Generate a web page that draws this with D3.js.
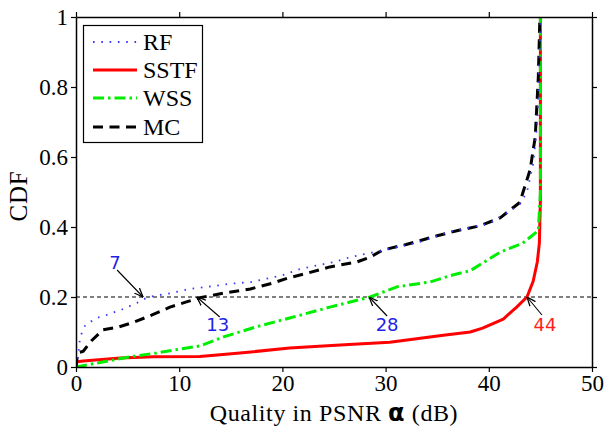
<!DOCTYPE html>
<html><head><meta charset="utf-8">
<script src="https://cdn.jsdelivr.net/npm/d3@7"></script>
<style>body{margin:0;background:#fff}svg{display:block}</style>
</head><body>
<script>
// ---- data ----
const seriesNames = ["RF", "SSTF", "WSS", "MC"];
const rfX = [0,0.2,0.4,0.9,2,3,4.5,5.9,7,9,11,13,15,17,20,21.7,25,26.6,30,33.3,36,38,40,42,43,43.7,44.3,44.7,44.9,45];
const rfY = [0,0.03,0.086,0.12,0.14,0.149,0.165,0.183,0.2,0.21,0.223,0.23,0.238,0.243,0.262,0.28,0.3,0.314,0.335,0.357,0.385,0.397,0.41,0.445,0.465,0.5,0.58,0.7,0.88,1.0];
const sstfX = [0,0.1,0.7,4.3,7.5,12,15.9,20.7,25.6,30.4,35.6,38.2,39.4,41.4,42.7,43.7,44.3,44.7,44.9,45,45];
const sstfY = [0,0.015,0.017,0.026,0.029,0.03,0.04,0.054,0.063,0.071,0.091,0.1,0.111,0.137,0.171,0.2,0.245,0.3,0.354,0.48,1.0];
const wssX = [0,0.9,2.6,5.2,7.8,10,12,14.3,17.5,20.7,24.6,28.5,31.1,34.3,36.5,38.2,41.1,43.3,44.8,45,45];
const wssY = [0,0.005,0.014,0.029,0.04,0.051,0.06,0.086,0.115,0.14,0.171,0.2,0.229,0.243,0.263,0.275,0.328,0.354,0.39,0.5,1.0];
const mcX = [0,0.15,0.7,1.5,2.6,4.1,5.5,6.9,9.1,10.7,12,14.3,16.9,19.1,20.5,22.4,24.6,27.2,28.5,29.7,32,35,37,39.1,41.1,43,44,44.5,44.8,44.95];
const mcY = [0,0.04,0.045,0.075,0.106,0.114,0.127,0.143,0.171,0.186,0.198,0.211,0.223,0.24,0.254,0.268,0.286,0.3,0.314,0.334,0.35,0.375,0.39,0.403,0.426,0.47,0.563,0.657,0.83,1.0];
const xTicks = [0,10,20,30,40,50];
const yTicks = [0,0.2,0.4,0.6,0.8,1];
const refLevel = 0.2;
const annoX = [6.5, 11.7, 28.4, 43.7];
const annoLabels = ["7", "13", "28", "44"];

// ---- layout ----
const W = 606, H = 430;
const m = {left: 76, right: 14, top: 17, bottom: 63};
const iw = W - m.left - m.right, ih = H - m.top - m.bottom;
const x = d3.scaleLinear().domain([0,50]).range([0, iw]);
const y = d3.scaleLinear().domain([0,1]).range([ih, 0]);

const svg = d3.select("body").append("svg").attr("width", W).attr("height", H);
const g = svg.append("g").attr("transform", `translate(${m.left},${m.top})`);

const serif = "'Liberation Serif','Times New Roman',serif";
const sans = "'DejaVu Sans',sans-serif";

// reference line
g.append("line").attr("x1", x(0)).attr("x2", x(50)).attr("y1", y(refLevel)).attr("y2", y(refLevel))
  .attr("stroke", "#000").attr("stroke-width", 1).attr("stroke-dasharray", "4,3");

const styles = {
  RF:   {color: "#3a3aff", width: 1.8, dash: "1.6,6.7"},
  SSTF: {color: "#ff0000", width: 3, dash: null},
  WSS:  {color: "#00ee00", width: 3, dash: "11,4,2.5,4"},
  MC:   {color: "#000000", width: 3, dash: "10,6.5"}
};
const data = {
  RF: rfX.map((v,i)=>[v, rfY[i]]),
  SSTF: sstfX.map((v,i)=>[v, sstfY[i]]),
  WSS: wssX.map((v,i)=>[v, wssY[i]]),
  MC: mcX.map((v,i)=>[v, mcY[i]])
};
const line = d3.line().x(d=>x(d[0])).y(d=>y(d[1]));
const clip = svg.append("defs").append("clipPath").attr("id","c").append("rect")
  .attr("x",0).attr("y",-2).attr("width",iw).attr("height",ih+2);
const curves = g.append("g").attr("clip-path","url(#c)");
["SSTF","WSS","MC","RF"].forEach(k=>{
  const s = styles[k];
  curves.append("path").datum(data[k]).attr("d", line).attr("fill","none")
    .attr("stroke", s.color).attr("stroke-width", s.width)
    .attr("stroke-dasharray", s.dash).attr("stroke-linejoin","round");
});

// axes
function styleAxis(sel){
  sel.selectAll("path.domain").attr("stroke","#000").attr("stroke-width",1.5);
  sel.selectAll(".tick line").attr("stroke","#000").attr("stroke-width",1.2);
  sel.selectAll(".tick text").attr("font-family", serif).attr("font-size", 23).attr("fill","#000");
}
const fmtY = d => d===0 ? "0" : d===1 ? "1" : d3.format(".1f")(d);
g.append("g").attr("transform",`translate(0,${ih})`)
  .call(d3.axisBottom(x).tickValues(xTicks).tickSize(5).tickSizeOuter(0).tickPadding(3))
  .call(styleAxis);
g.append("g").call(d3.axisLeft(y).tickValues(yTicks).tickFormat(fmtY).tickSize(5).tickSizeOuter(0).tickPadding(3))
  .call(styleAxis);
g.append("g").call(d3.axisTop(x).tickValues(xTicks).tickFormat("").tickSize(5).tickSizeOuter(0)).call(styleAxis);
g.append("g").attr("transform",`translate(${iw},0)`)
  .call(d3.axisRight(y).tickValues(yTicks).tickFormat("").tickSize(5).tickSizeOuter(0)).call(styleAxis);

// axis labels
const xl = svg.append("text").attr("x", m.left + iw/2).attr("y", 421).attr("text-anchor","middle")
  .attr("font-family", serif).attr("font-size", 24).attr("letter-spacing", 0.6).attr("fill","#000");
xl.append("tspan").text("Quality in PSNR ");
xl.append("tspan").attr("font-family", sans).attr("font-weight","bold").text("α");
xl.append("tspan").text(" (dB)");
svg.append("text").attr("transform", `translate(27,${m.top+ih/2+4}) rotate(-90)`).attr("text-anchor","middle")
  .attr("font-family", serif).attr("font-size", 25).attr("letter-spacing", 0.8).attr("fill","#000").text("CDF");

// annotations
const defs = svg.select("defs");
defs.append("marker").attr("id","ah").attr("viewBox","0 0 10 10").attr("refX",10).attr("refY",5)
  .attr("markerWidth",9).attr("markerHeight",9).attr("markerUnits","userSpaceOnUse").attr("orient","auto")
  .append("path").attr("d","M0,1 L10,5 L0,9").attr("fill","none").attr("stroke","#000").attr("stroke-width",1.4);
const annoColors = ["#1f1fe6","#1f1fe6","#1f1fe6","#ff1f1f"];
const annoOff = [[-26,-27,-28,-28],[23,20,21,34],[18,19,18,34],[15,18,18,34]];
annoX.forEach((v,i)=>{
  const tx = x(v), ty = y(refLevel);
  const o = annoOff[i];
  g.append("line").attr("x1", tx+o[0]).attr("y1", ty+o[1]).attr("x2", tx).attr("y2", ty)
    .attr("stroke","#000").attr("stroke-width",1.1).attr("marker-end","url(#ah)");
  g.append("text").attr("x", tx+o[2]).attr("y", ty+o[3]).attr("text-anchor","middle")
    .attr("font-family", sans).attr("font-size", 18).attr("fill", annoColors[i]).text(annoLabels[i]);
});

// legend
const lg = svg.append("g");
lg.append("rect").attr("x",83.5).attr("y",25.5).attr("width",119).attr("height",117)
  .attr("fill","#fff").attr("stroke","#000").attr("stroke-width",1.2);
const rowsY = [42, 70, 98, 127];
seriesNames.forEach((k,i)=>{
  const s = styles[k];
  lg.append("line").attr("x1",93).attr("x2",137).attr("y1",rowsY[i]).attr("y2",rowsY[i])
    .attr("stroke", s.color).attr("stroke-width", s.width).attr("stroke-dasharray", s.dash);
  lg.append("text").attr("x",143).attr("y",rowsY[i]+8).attr("font-family", serif).attr("font-size",24)
    .attr("fill","#000").text(k);
});
</script>
</body></html>
